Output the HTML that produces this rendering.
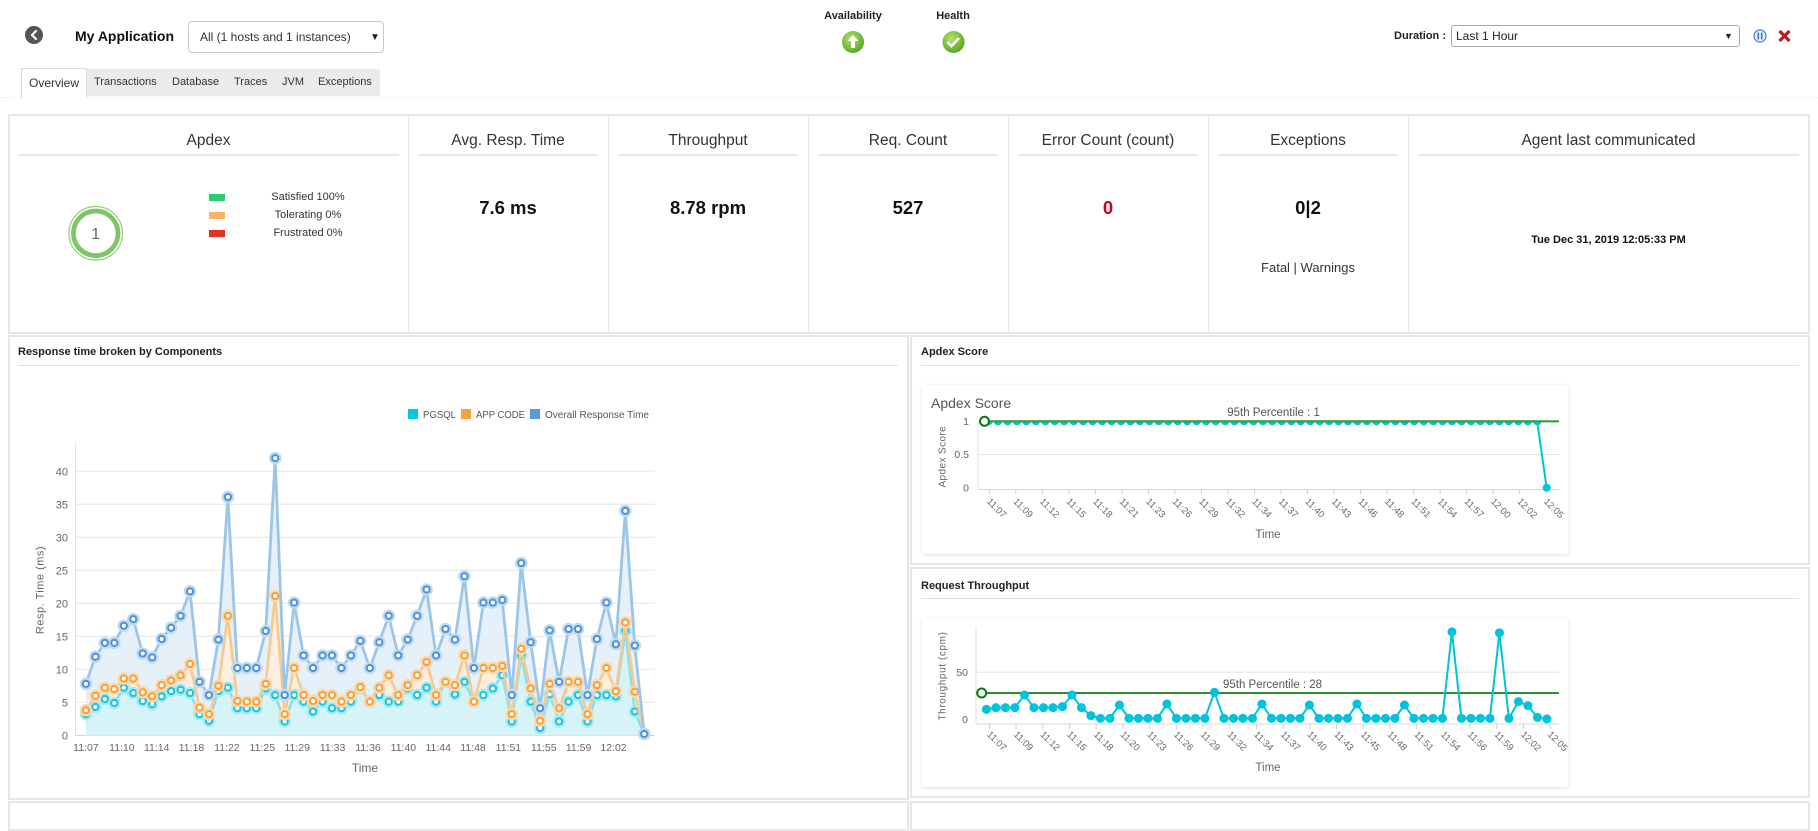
<!DOCTYPE html>
<html><head><meta charset="utf-8">
<style>
*{box-sizing:border-box;margin:0;padding:0}
body{width:1818px;height:811px;overflow:hidden;position:relative;background:#fff;font-family:"Liberation Sans",Arial,sans-serif;color:#333}
.a{position:absolute;white-space:nowrap}
.panel{position:absolute;border:2px solid #e6e6e6;background:#fff}
.kt{position:absolute;top:130px;font-size:15.5px;color:#333;text-align:center;line-height:22px}
.kv{position:absolute;top:197px;font-size:18.5px;font-weight:bold;text-align:center;line-height:22px;color:#111}
.ul{position:absolute;height:2px;background:#e8e8e8;top:154px}
.vd{position:absolute;top:116px;width:1px;height:217px;background:#e6e6e6}
.tab{position:absolute;top:75px;font-size:11px;line-height:14px;color:#333}
.ct{position:absolute;font-size:11px;font-weight:bold;line-height:14px;color:#222}
.card{position:absolute;background:#fff;box-shadow:0 1px 4px rgba(0,0,0,0.13)}
</style></head><body>

<!-- header -->
<div class="a" style="left:75px;top:28px;font-size:14px;font-weight:bold;line-height:16px;color:#111">My Application</div>
<div class="a" style="left:188px;top:21px;width:196px;height:32px;border:1px solid #c8c8c8;border-radius:4px;background:#fff">
  <span class="a" style="left:11px;top:8px;font-size:12px;line-height:14px;color:#333">All (1 hosts and 1 instances)</span>
  <span class="a" style="left:181px;top:10px;font-size:10px;line-height:12px;color:#222">▼</span>
</div>
<div class="a" style="left:0;top:97px;width:1818px;height:0;border-top:1px dotted #eeeeee"></div>
<div class="a" style="left:21px;top:69px;width:359px;height:27px;background:#ebebeb"></div>
<div class="a" style="left:21px;top:68px;width:66px;height:31px;background:#fff;border:1px solid #dcdcdc;border-bottom:none"></div>
<div class="tab" style="left:29px;top:76px;font-size:12px">Overview</div>
<div class="tab" style="left:94px">Transactions</div>
<div class="tab" style="left:172px">Database</div>
<div class="tab" style="left:234px">Traces</div>
<div class="tab" style="left:282px">JVM</div>
<div class="tab" style="left:318px">Exceptions</div>

<div class="a" style="left:803px;top:9px;width:100px;text-align:center;font-size:11px;font-weight:bold;line-height:14px;color:#222">Availability</div>
<div class="a" style="left:903px;top:9px;width:100px;text-align:center;font-size:11px;font-weight:bold;line-height:14px;color:#222">Health</div>

<div class="a" style="left:1380px;top:29px;width:66px;text-align:right;font-size:11px;font-weight:bold;line-height:14px;color:#222">Duration :</div>
<div class="a" style="left:1451px;top:25px;width:289px;height:22px;border:1px solid #a9a9a9;border-radius:3px;background:#fff">
  <span class="a" style="left:4px;top:3px;font-size:12px;line-height:14px;color:#222">Last 1 Hour</span>
  <span class="a" style="left:272px;top:4px;font-size:9px;line-height:12px;color:#222">▼</span>
</div>

<!-- KPI panel -->
<div class="panel" style="left:8px;top:114px;width:1802px;height:220px"></div>
<div class="vd" style="left:408px"></div>
<div class="vd" style="left:608px"></div>
<div class="vd" style="left:808px"></div>
<div class="vd" style="left:1008px"></div>
<div class="vd" style="left:1208px"></div>
<div class="vd" style="left:1408px"></div>

<div class="kt" style="left:9px;width:399px">Apdex</div>
<div class="kt" style="left:408px;width:200px">Avg. Resp. Time</div>
<div class="kt" style="left:608px;width:200px">Throughput</div>
<div class="kt" style="left:808px;width:200px">Req. Count</div>
<div class="kt" style="left:1008px;width:200px">Error Count (count)</div>
<div class="kt" style="left:1208px;width:200px">Exceptions</div>
<div class="kt" style="left:1408px;width:401px">Agent last communicated</div>

<div class="ul" style="left:18px;width:381px"></div>
<div class="ul" style="left:418px;width:180px"></div>
<div class="ul" style="left:618px;width:180px"></div>
<div class="ul" style="left:818px;width:180px"></div>
<div class="ul" style="left:1018px;width:180px"></div>
<div class="ul" style="left:1218px;width:180px"></div>
<div class="ul" style="left:1418px;width:381px"></div>

<div class="kv" style="left:408px;width:200px">7.6 ms</div>
<div class="kv" style="left:608px;width:200px">8.78 rpm</div>
<div class="kv" style="left:808px;width:200px">527</div>
<div class="kv" style="left:1008px;width:200px;color:#d0021b">0</div>
<div class="kv" style="left:1208px;width:200px">0|2</div>
<div class="a" style="left:1208px;width:200px;top:260px;text-align:center;font-size:13px;line-height:16px;color:#333">Fatal | Warnings</div>
<div class="a" style="left:1408px;width:401px;top:233px;text-align:center;font-size:11px;font-weight:bold;line-height:14px;color:#111">Tue Dec 31, 2019 12:05:33 PM</div>

<!-- chart panels -->
<div class="panel" style="left:8px;top:335px;width:901px;height:465px"></div>
<div class="panel" style="left:910px;top:335px;width:900px;height:230px"></div>
<div class="panel" style="left:910px;top:567px;width:900px;height:231px"></div>
<div class="panel" style="left:8px;top:801px;width:901px;height:30px"></div>
<div class="panel" style="left:910px;top:801px;width:900px;height:30px"></div>

<div class="ct" style="left:18px;top:345px">Response time broken by Components</div>
<div class="a" style="left:18px;top:365px;width:880px;height:1px;background:#e0e0e0"></div>
<div class="ct" style="left:921px;top:345px">Apdex Score</div>
<div class="a" style="left:921px;top:365px;width:878px;height:1px;background:#e0e0e0"></div>
<div class="ct" style="left:921px;top:579px">Request Throughput</div>
<div class="a" style="left:921px;top:598px;width:878px;height:1px;background:#e0e0e0"></div>

<div class="card" style="left:922px;top:385px;width:646px;height:169px"></div>
<div class="card" style="left:922px;top:618px;width:646px;height:169px"></div>

<svg class="a" style="left:0;top:0" width="1818" height="811" viewBox="0 0 1818 811" xmlns="http://www.w3.org/2000/svg" font-family="Liberation Sans, Arial, sans-serif">
<defs>
  <radialGradient id="gg" cx="40%" cy="35%" r="65%"><stop offset="0" stop-color="#b2e46c"/><stop offset="1" stop-color="#5aa823"/></radialGradient>
  <clipPath id="apclip" clipPathUnits="userSpaceOnUse"><rect x="960" y="421.3" width="620" height="90"/></clipPath>
  <path id="cm" fill="none" vector-effect="non-scaling-stroke" d="M0,3.2h.01M1,4.3h.01M2,5.5h.01M3,4.9h.01M4,7.2h.01M5,6.4h.01M6,5.2h.01M7,4.7h.01M8,5.9h.01M9,6.7h.01M10,6.9h.01M11,6.4h.01M12,3.2h.01M13,2.2h.01M14,6.7h.01M15,7.2h.01M16,4.1h.01M17,4.1h.01M18,4.1h.01M19,7.1h.01M20,6.1h.01M21,2.1h.01M22,6.1h.01M23,5.1h.01M24,3.6h.01M25,5.1h.01M26,4.1h.01M27,4.1h.01M28,5.1h.01M29,7.1h.01M30,5.1h.01M31,6.1h.01M32,5.1h.01M33,5.1h.01M34,7.1h.01M35,6.1h.01M36,7.2h.01M37,5.1h.01M38,8.1h.01M39,6.2h.01M40,8.1h.01M41,5.1h.01M42,6.1h.01M43,7.1h.01M44,9.1h.01M45,2.1h.01M46,12.1h.01M47,5.1h.01M48,1.1h.01M49,6.2h.01M50,2.1h.01M51,5.1h.01M52,6.1h.01M53,2.1h.01M54,6.1h.01M55,6.1h.01M56,5.9h.01M57,15.8h.01M58,3.6h.01M59,0.2h.01"/>
  <path id="om" fill="none" vector-effect="non-scaling-stroke" d="M0,3.8h.01M1,6h.01M2,7.2h.01M3,7h.01M4,8.6h.01M5,8.6h.01M6,6.5h.01M7,5.9h.01M8,7.6h.01M9,8.3h.01M10,9.1h.01M11,10.8h.01M12,4.2h.01M13,3.2h.01M14,7.5h.01M15,18.1h.01M16,5.2h.01M17,5.1h.01M18,5.1h.01M19,7.8h.01M20,21.1h.01M21,3.2h.01M22,10.2h.01M23,6.1h.01M24,5.2h.01M25,6.1h.01M26,6.1h.01M27,5.1h.01M28,6.1h.01M29,7.3h.01M30,5.1h.01M31,7.2h.01M32,9.1h.01M33,6.1h.01M34,7.6h.01M35,9.1h.01M36,11.1h.01M37,6.1h.01M38,8.1h.01M39,7.6h.01M40,12.1h.01M41,5.1h.01M42,10.2h.01M43,10.2h.01M44,10.5h.01M45,3.2h.01M46,13.1h.01M47,7.1h.01M48,2.2h.01M49,7.8h.01M50,4.1h.01M51,8.1h.01M52,8.1h.01M53,3.2h.01M54,7.6h.01M55,10.2h.01M56,6.7h.01M57,17.1h.01M58,6.6h.01M59,0.2h.01"/>
  <path id="bm" fill="none" vector-effect="non-scaling-stroke" d="M0,7.8h.01M1,11.9h.01M2,14h.01M3,14h.01M4,16.6h.01M5,17.6h.01M6,12.4h.01M7,11.8h.01M8,14.6h.01M9,16.3h.01M10,18.1h.01M11,21.8h.01M12,8.1h.01M13,6.1h.01M14,14.5h.01M15,36.1h.01M16,10.2h.01M17,10.2h.01M18,10.2h.01M19,15.8h.01M20,42h.01M21,6.1h.01M22,20.1h.01M23,12.1h.01M24,10.2h.01M25,12.1h.01M26,12.1h.01M27,10.2h.01M28,12.1h.01M29,14.3h.01M30,10.2h.01M31,14.1h.01M32,18.1h.01M33,12.1h.01M34,14.5h.01M35,18.1h.01M36,22.1h.01M37,12.1h.01M38,16.1h.01M39,14.5h.01M40,24.1h.01M41,10.2h.01M42,20.1h.01M43,20.1h.01M44,20.5h.01M45,6.1h.01M46,26.1h.01M47,14.1h.01M48,4.1h.01M49,15.9h.01M50,8.1h.01M51,16.1h.01M52,16.1h.01M53,6.1h.01M54,14.6h.01M55,20.1h.01M56,13.8h.01M57,34h.01M58,13.6h.01M59,0.2h.01"/>
</defs>

<!-- header icons -->
<circle cx="34" cy="35" r="9" fill="#555"/>
<path d="M36 31 L32 35 L36 39" stroke="#fff" stroke-width="2.2" fill="none" stroke-linecap="round" stroke-linejoin="round"/>
<circle cx="853" cy="42" r="11" fill="url(#gg)"/>
<path d="M853 35 L847.5 41 H851 V48 H855 V41 H858.5 Z" fill="#fff"/>
<circle cx="953.5" cy="42" r="11" fill="url(#gg)"/>
<path d="M947.5 42 L951.5 46 L959 38" stroke="#fff" stroke-width="2.6" fill="none"/>
<circle cx="1760" cy="36" r="6" fill="#eaf2fc" stroke="#3b7dd8" stroke-width="1.2"/>
<rect x="1757.4" y="32.5" width="1.7" height="7" fill="#3b7dd8"/>
<rect x="1760.9" y="32.5" width="1.7" height="7" fill="#3b7dd8"/>
<path d="M1779.5 31 L1789.5 41 M1789.5 31 L1779.5 41" stroke="#b81c1c" stroke-width="3.2"/>

<!-- apdex ring + legend -->
<circle cx="95.7" cy="233.3" r="22.3" fill="none" stroke="#7cc66a" stroke-width="4.7"/>
<circle cx="95.7" cy="233.3" r="26.8" fill="none" stroke="#8fd080" stroke-width="1.2"/>
<text x="95.7" y="239" font-size="16" fill="#666" text-anchor="middle">1</text>
<rect x="209" y="194" width="16" height="7" fill="#2ecc71"/>
<rect x="209" y="212" width="16" height="7" fill="#f8b26a"/>
<rect x="209" y="230" width="16" height="7" fill="#e2311d"/>
<g font-size="11" fill="#333" text-anchor="middle">
<text x="308" y="200">Satisfied 100%</text>
<text x="308" y="218">Tolerating 0%</text>
<text x="308" y="236">Frustrated 0%</text>
</g>

<!-- ========== Left chart ========== -->
<g stroke="#e6e6e6" stroke-width="1">
<line x1="75.5" y1="471.3" x2="654.7" y2="471.3"/>
<line x1="75.5" y1="504.3" x2="654.7" y2="504.3"/>
<line x1="75.5" y1="537.3" x2="654.7" y2="537.3"/>
<line x1="75.5" y1="570.3" x2="654.7" y2="570.3"/>
<line x1="75.5" y1="603.3" x2="654.7" y2="603.3"/>
<line x1="75.5" y1="636.3" x2="654.7" y2="636.3"/>
<line x1="75.5" y1="669.3" x2="654.7" y2="669.3"/>
<line x1="75.5" y1="702.3" x2="654.7" y2="702.3"/>
</g>
<line x1="75.5" y1="443" x2="75.5" y2="735.3" stroke="#e0e0e0"/>
<line x1="75.5" y1="735.5" x2="654.7" y2="735.5" stroke="#d8d8d8"/>
<g font-size="11" fill="#666" text-anchor="end">
<text x="68" y="739.3">0</text><text x="68" y="706.3">5</text><text x="68" y="673.3">10</text>
<text x="68" y="640.3">15</text><text x="68" y="607.3">20</text><text x="68" y="574.3">25</text>
<text x="68" y="541.3">30</text><text x="68" y="508.3">35</text><text x="68" y="475.3">40</text>
</g>
<g font-size="10.5" fill="#666" text-anchor="middle">
<text x="85.9" y="751">11:07</text><text x="121.9" y="751">11:10</text><text x="156.7" y="751">11:14</text>
<text x="191.5" y="751">11:18</text><text x="226.9" y="751">11:22</text><text x="262.3" y="751">11:25</text>
<text x="297.2" y="751">11:29</text><text x="332.6" y="751">11:33</text><text x="368" y="751">11:36</text>
<text x="403.4" y="751">11:40</text><text x="438.2" y="751">11:44</text><text x="473" y="751">11:48</text>
<text x="508.4" y="751">11:51</text><text x="543.8" y="751">11:55</text><text x="578.6" y="751">11:59</text>
<text x="613.5" y="751">12:02</text>
</g>
<text x="365" y="772" font-size="12" fill="#666" text-anchor="middle">Time</text>
<text transform="translate(43.5,590) rotate(-90)" font-size="11" fill="#666" text-anchor="middle" letter-spacing="0.5">Resp. Time (ms)</text>

<!-- legend -->
<rect x="408" y="409" width="10" height="10" fill="#00c8e0"/>
<text x="423" y="418" font-size="10" fill="#555" textLength="33" lengthAdjust="spacingAndGlyphs">PGSQL</text>
<rect x="461" y="409" width="10" height="10" fill="#f8a23a"/>
<text x="476" y="418" font-size="10" fill="#555" textLength="49" lengthAdjust="spacingAndGlyphs">APP CODE</text>
<rect x="530" y="409" width="10" height="10" fill="#5b9bd5"/>
<text x="545" y="418" font-size="10" fill="#555" textLength="104" lengthAdjust="spacingAndGlyphs">Overall Response Time</text>

<g transform="matrix(9.463 0 0 -6.6 85.9 735.3)">
<polygon fill="#e6f0f9" points="0,0 0,7.8 1,11.9 2,14 3,14 4,16.6 5,17.6 6,12.4 7,11.8 8,14.6 9,16.3 10,18.1 11,21.8 12,8.1 13,6.1 14,14.5 15,36.1 16,10.2 17,10.2 18,10.2 19,15.8 20,42 21,6.1 22,20.1 23,12.1 24,10.2 25,12.1 26,12.1 27,10.2 28,12.1 29,14.3 30,10.2 31,14.1 32,18.1 33,12.1 34,14.5 35,18.1 36,22.1 37,12.1 38,16.1 39,14.5 40,24.1 41,10.2 42,20.1 43,20.1 44,20.5 45,6.1 46,26.1 47,14.1 48,4.1 49,15.9 50,8.1 51,16.1 52,16.1 53,6.1 54,14.6 55,20.1 56,13.8 57,34 58,13.6 59,0.2 59,0"/>
<polygon fill="#fcefe0" points="0,0 0,3.8 1,6 2,7.2 3,7 4,8.6 5,8.6 6,6.5 7,5.9 8,7.6 9,8.3 10,9.1 11,10.8 12,4.2 13,3.2 14,7.5 15,18.1 16,5.2 17,5.1 18,5.1 19,7.8 20,21.1 21,3.2 22,10.2 23,6.1 24,5.2 25,6.1 26,6.1 27,5.1 28,6.1 29,7.3 30,5.1 31,7.2 32,9.1 33,6.1 34,7.6 35,9.1 36,11.1 37,6.1 38,8.1 39,7.6 40,12.1 41,5.1 42,10.2 43,10.2 44,10.5 45,3.2 46,13.1 47,7.1 48,2.2 49,7.8 50,4.1 51,8.1 52,8.1 53,3.2 54,7.6 55,10.2 56,6.7 57,17.1 58,6.6 59,0.2 59,0"/>
<polygon fill="#d6f3f8" points="0,0 0,3.2 1,4.3 2,5.5 3,4.9 4,7.2 5,6.4 6,5.2 7,4.7 8,5.9 9,6.7 10,6.9 11,6.4 12,3.2 13,2.2 14,6.7 15,7.2 16,4.1 17,4.1 18,4.1 19,7.1 20,6.1 21,2.1 22,6.1 23,5.1 24,3.6 25,5.1 26,4.1 27,4.1 28,5.1 29,7.1 30,5.1 31,6.1 32,5.1 33,5.1 34,7.1 35,6.1 36,7.2 37,5.1 38,8.1 39,6.2 40,8.1 41,5.1 42,6.1 43,7.1 44,9.1 45,2.1 46,12.1 47,5.1 48,1.1 49,6.2 50,2.1 51,5.1 52,6.1 53,2.1 54,6.1 55,6.1 56,5.9 57,15.8 58,3.6 59,0.2 59,0"/>

<!-- cyan series -->
<polyline fill="none" stroke="#86dfec" stroke-width="2.6" stroke-linejoin="round" vector-effect="non-scaling-stroke" points="0,3.2 1,4.3 2,5.5 3,4.9 4,7.2 5,6.4 6,5.2 7,4.7 8,5.9 9,6.7 10,6.9 11,6.4 12,3.2 13,2.2 14,6.7 15,7.2 16,4.1 17,4.1 18,4.1 19,7.1 20,6.1 21,2.1 22,6.1 23,5.1 24,3.6 25,5.1 26,4.1 27,4.1 28,5.1 29,7.1 30,5.1 31,6.1 32,5.1 33,5.1 34,7.1 35,6.1 36,7.2 37,5.1 38,8.1 39,6.2 40,8.1 41,5.1 42,6.1 43,7.1 44,9.1 45,2.1 46,12.1 47,5.1 48,1.1 49,6.2 50,2.1 51,5.1 52,6.1 53,2.1 54,6.1 55,6.1 56,5.9 57,15.8 58,3.6 59,0.2"/>
<use href="#cm" stroke="#a6e9f3" stroke-width="12.5" stroke-linecap="round"/>
<use href="#cm" stroke="#1ec4dc" stroke-width="8.2" stroke-linecap="round"/>
<use href="#cm" stroke="#ffffff" stroke-width="4" stroke-linecap="round"/>

<!-- orange series -->
<polyline fill="none" stroke="#f8c98c" stroke-width="2.6" stroke-linejoin="round" vector-effect="non-scaling-stroke" points="0,3.8 1,6 2,7.2 3,7 4,8.6 5,8.6 6,6.5 7,5.9 8,7.6 9,8.3 10,9.1 11,10.8 12,4.2 13,3.2 14,7.5 15,18.1 16,5.2 17,5.1 18,5.1 19,7.8 20,21.1 21,3.2 22,10.2 23,6.1 24,5.2 25,6.1 26,6.1 27,5.1 28,6.1 29,7.3 30,5.1 31,7.2 32,9.1 33,6.1 34,7.6 35,9.1 36,11.1 37,6.1 38,8.1 39,7.6 40,12.1 41,5.1 42,10.2 43,10.2 44,10.5 45,3.2 46,13.1 47,7.1 48,2.2 49,7.8 50,4.1 51,8.1 52,8.1 53,3.2 54,7.6 55,10.2 56,6.7 57,17.1 58,6.6 59,0.2"/>
<use href="#om" stroke="#fcd8ae" stroke-width="12.5" stroke-linecap="round"/>
<use href="#om" stroke="#f5a23c" stroke-width="8.2" stroke-linecap="round"/>
<use href="#om" stroke="#ffffff" stroke-width="4" stroke-linecap="round"/>

<!-- blue series -->
<polyline fill="none" stroke="#9cc6e9" stroke-width="2.8" stroke-linejoin="round" vector-effect="non-scaling-stroke" points="0,7.8 1,11.9 2,14 3,14 4,16.6 5,17.6 6,12.4 7,11.8 8,14.6 9,16.3 10,18.1 11,21.8 12,8.1 13,6.1 14,14.5 15,36.1 16,10.2 17,10.2 18,10.2 19,15.8 20,42 21,6.1 22,20.1 23,12.1 24,10.2 25,12.1 26,12.1 27,10.2 28,12.1 29,14.3 30,10.2 31,14.1 32,18.1 33,12.1 34,14.5 35,18.1 36,22.1 37,12.1 38,16.1 39,14.5 40,24.1 41,10.2 42,20.1 43,20.1 44,20.5 45,6.1 46,26.1 47,14.1 48,4.1 49,15.9 50,8.1 51,16.1 52,16.1 53,6.1 54,14.6 55,20.1 56,13.8 57,34 58,13.6 59,0.2"/>
<use href="#bm" stroke="#c0daf1" stroke-width="12.5" stroke-linecap="round"/>
<use href="#bm" stroke="#4f94d8" stroke-width="8.2" stroke-linecap="round"/>
<use href="#bm" stroke="#ffffff" stroke-width="4" stroke-linecap="round"/>
</g>

<!-- ========== Apdex Score chart ========== -->
<text x="931" y="408" font-size="14" fill="#555">Apdex Score</text>
<line x1="978" y1="454.5" x2="1559" y2="454.5" stroke="#e6e6e6"/>
<line x1="978" y1="421.3" x2="978" y2="489.5" stroke="#e0e0e0"/>
<line x1="978" y1="489.5" x2="1559" y2="489.5" stroke="#d8d8d8"/>
<g stroke="#cfcfcf">
<line x1="989.3" y1="489.5" x2="989.3" y2="494"/><line x1="1015.8" y1="489.5" x2="1015.8" y2="494"/><line x1="1042.3" y1="489.5" x2="1042.3" y2="494"/><line x1="1068.9" y1="489.5" x2="1068.9" y2="494"/><line x1="1095.4" y1="489.5" x2="1095.4" y2="494"/><line x1="1121.9" y1="489.5" x2="1121.9" y2="494"/><line x1="1148.4" y1="489.5" x2="1148.4" y2="494"/><line x1="1174.9" y1="489.5" x2="1174.9" y2="494"/><line x1="1201.5" y1="489.5" x2="1201.5" y2="494"/><line x1="1228" y1="489.5" x2="1228" y2="494"/><line x1="1254.5" y1="489.5" x2="1254.5" y2="494"/><line x1="1281" y1="489.5" x2="1281" y2="494"/><line x1="1307.5" y1="489.5" x2="1307.5" y2="494"/><line x1="1334.1" y1="489.5" x2="1334.1" y2="494"/><line x1="1360.6" y1="489.5" x2="1360.6" y2="494"/><line x1="1387.1" y1="489.5" x2="1387.1" y2="494"/><line x1="1413.6" y1="489.5" x2="1413.6" y2="494"/><line x1="1440.1" y1="489.5" x2="1440.1" y2="494"/><line x1="1466.7" y1="489.5" x2="1466.7" y2="494"/><line x1="1493.2" y1="489.5" x2="1493.2" y2="494"/><line x1="1519.7" y1="489.5" x2="1519.7" y2="494"/><line x1="1546.2" y1="489.5" x2="1546.2" y2="494"/>
</g>
<g font-size="10.5" fill="#666" text-anchor="end">
<text x="969" y="425">1</text><text x="969" y="458.2">0.5</text><text x="969" y="491.4">0</text>
</g>
<text transform="translate(945.5,456.7) rotate(-90)" font-size="10" fill="#666" text-anchor="middle" letter-spacing="0.4">Apdex Score</text>
<g font-size="9.5" fill="#666">
<text transform="translate(986.3,502) rotate(45)">11:07</text>
<text transform="translate(1012.8,502) rotate(45)">11:09</text>
<text transform="translate(1039.3,502) rotate(45)">11:12</text>
<text transform="translate(1065.9,502) rotate(45)">11:15</text>
<text transform="translate(1092.4,502) rotate(45)">11:18</text>
<text transform="translate(1118.9,502) rotate(45)">11:21</text>
<text transform="translate(1145.4,502) rotate(45)">11:23</text>
<text transform="translate(1171.9,502) rotate(45)">11:26</text>
<text transform="translate(1198.5,502) rotate(45)">11:29</text>
<text transform="translate(1225,502) rotate(45)">11:32</text>
<text transform="translate(1251.5,502) rotate(45)">11:34</text>
<text transform="translate(1278,502) rotate(45)">11:37</text>
<text transform="translate(1304.5,502) rotate(45)">11:40</text>
<text transform="translate(1331.1,502) rotate(45)">11:43</text>
<text transform="translate(1357.6,502) rotate(45)">11:46</text>
<text transform="translate(1384.1,502) rotate(45)">11:48</text>
<text transform="translate(1410.6,502) rotate(45)">11:51</text>
<text transform="translate(1437.1,502) rotate(45)">11:54</text>
<text transform="translate(1463.7,502) rotate(45)">11:57</text>
<text transform="translate(1490.2,502) rotate(45)">12:00</text>
<text transform="translate(1516.7,502) rotate(45)">12:02</text>
<text transform="translate(1543.2,502) rotate(45)">12:05</text>
</g>
<text x="1268" y="538" font-size="11.5" fill="#666" text-anchor="middle">Time</text>
<g clip-path="url(#apclip)">
<g transform="matrix(9.46 0 0 -66.4 988.5 487.7)">
<polyline fill="none" stroke="#00c4dc" stroke-width="2" vector-effect="non-scaling-stroke" points="0,1 58,1 59,0"/>
<path fill="none" stroke="#00c4dc" stroke-width="8" stroke-linecap="round" vector-effect="non-scaling-stroke" d="M0,1h.01M1,1h.01M2,1h.01M3,1h.01M4,1h.01M5,1h.01M6,1h.01M7,1h.01M8,1h.01M9,1h.01M10,1h.01M11,1h.01M12,1h.01M13,1h.01M14,1h.01M15,1h.01M16,1h.01M17,1h.01M18,1h.01M19,1h.01M20,1h.01M21,1h.01M22,1h.01M23,1h.01M24,1h.01M25,1h.01M26,1h.01M27,1h.01M28,1h.01M29,1h.01M30,1h.01M31,1h.01M32,1h.01M33,1h.01M34,1h.01M35,1h.01M36,1h.01M37,1h.01M38,1h.01M39,1h.01M40,1h.01M41,1h.01M42,1h.01M43,1h.01M44,1h.01M45,1h.01M46,1h.01M47,1h.01M48,1h.01M49,1h.01M50,1h.01M51,1h.01M52,1h.01M53,1h.01M54,1h.01M55,1h.01M56,1h.01M57,1h.01M58,1h.01M59,0h.01"/>
</g>
</g>
<line x1="983.4" y1="421.3" x2="1559" y2="421.3" stroke="#3a9a3a" stroke-width="2.2"/>
<circle cx="984.5" cy="421.3" r="4.5" fill="#fff" stroke="#0e7a0e" stroke-width="2"/>
<text x="1273.6" y="416" font-size="11.5" fill="#555" text-anchor="middle">95th Percentile : 1</text>

<!-- ========== Throughput chart ========== -->
<line x1="976" y1="672.3" x2="1559" y2="672.3" stroke="#e6e6e6"/>
<line x1="976" y1="626.7" x2="976" y2="724" stroke="#e0e0e0"/>
<line x1="976" y1="724" x2="1559" y2="724" stroke="#d8d8d8"/>
<g stroke="#cfcfcf">
<line x1="989.4" y1="724" x2="989.4" y2="729"/><line x1="1016.1" y1="724" x2="1016.1" y2="729"/><line x1="1042.8" y1="724" x2="1042.8" y2="729"/><line x1="1069.5" y1="724" x2="1069.5" y2="729"/><line x1="1096.2" y1="724" x2="1096.2" y2="729"/><line x1="1122.9" y1="724" x2="1122.9" y2="729"/><line x1="1149.6" y1="724" x2="1149.6" y2="729"/><line x1="1176.3" y1="724" x2="1176.3" y2="729"/><line x1="1203" y1="724" x2="1203" y2="729"/><line x1="1229.7" y1="724" x2="1229.7" y2="729"/><line x1="1256.4" y1="724" x2="1256.4" y2="729"/><line x1="1283.1" y1="724" x2="1283.1" y2="729"/><line x1="1309.8" y1="724" x2="1309.8" y2="729"/><line x1="1336.5" y1="724" x2="1336.5" y2="729"/><line x1="1363.2" y1="724" x2="1363.2" y2="729"/><line x1="1389.9" y1="724" x2="1389.9" y2="729"/><line x1="1416.6" y1="724" x2="1416.6" y2="729"/><line x1="1443.3" y1="724" x2="1443.3" y2="729"/><line x1="1470" y1="724" x2="1470" y2="729"/><line x1="1496.7" y1="724" x2="1496.7" y2="729"/><line x1="1523.4" y1="724" x2="1523.4" y2="729"/><line x1="1550.1" y1="724" x2="1550.1" y2="729"/>
</g>
<g font-size="10.5" fill="#666" text-anchor="end">
<text x="968" y="676">50</text><text x="968" y="723">0</text>
</g>
<text transform="translate(945.5,676) rotate(-90)" font-size="10" fill="#666" text-anchor="middle" letter-spacing="0.6">Throughput (cpm)</text>
<g font-size="9.5" fill="#666">
<text transform="translate(986.4,735) rotate(45)">11:07</text>
<text transform="translate(1013.1,735) rotate(45)">11:09</text>
<text transform="translate(1039.8,735) rotate(45)">11:12</text>
<text transform="translate(1066.5,735) rotate(45)">11:15</text>
<text transform="translate(1093.2,735) rotate(45)">11:18</text>
<text transform="translate(1119.9,735) rotate(45)">11:20</text>
<text transform="translate(1146.6,735) rotate(45)">11:23</text>
<text transform="translate(1173.3,735) rotate(45)">11:26</text>
<text transform="translate(1200,735) rotate(45)">11:29</text>
<text transform="translate(1226.7,735) rotate(45)">11:32</text>
<text transform="translate(1253.4,735) rotate(45)">11:34</text>
<text transform="translate(1280.1,735) rotate(45)">11:37</text>
<text transform="translate(1306.8,735) rotate(45)">11:40</text>
<text transform="translate(1333.5,735) rotate(45)">11:43</text>
<text transform="translate(1360.2,735) rotate(45)">11:45</text>
<text transform="translate(1386.9,735) rotate(45)">11:48</text>
<text transform="translate(1413.6,735) rotate(45)">11:51</text>
<text transform="translate(1440.3,735) rotate(45)">11:54</text>
<text transform="translate(1467,735) rotate(45)">11:56</text>
<text transform="translate(1493.7,735) rotate(45)">11:59</text>
<text transform="translate(1520.4,735) rotate(45)">12:02</text>
<text transform="translate(1547.1,735) rotate(45)">12:05</text>
</g>
<text x="1268" y="771" font-size="11.5" fill="#666" text-anchor="middle">Time</text>
<line x1="976" y1="693" x2="1559" y2="693" stroke="#2f8f2f" stroke-width="2"/>
<g transform="matrix(9.5 0 0 -0.94 986.4 719.3)">
<polyline fill="none" stroke="#00c4dc" stroke-width="2" stroke-linejoin="round" vector-effect="non-scaling-stroke" points="0,10.6 1,12.4 2,12.4 3,12.4 4,25.9 5,12.4 6,12.4 7,12.4 8,13.5 9,25.9 10,12.4 11,3.9 12,1 13,1 14,15.2 15,1 16,1 17,1 18,1 19,16.3 20,1 21,1 22,1 23,1 24,28.7 25,1 26,1 27,1 28,1 29,16.3 30,1 31,1 32,1 33,1 34,15.2 35,1 36,1 37,1 38,1 39,16.3 40,1 41,1 42,1 43,1 44,15.2 45,1 46,1 47,1 48,1 49,93 50,1 51,1 52,1 53,1 54,92 55,1 56,18.8 57,14.5 58,2 59,0.4"/>
<path fill="none" stroke="#00c4dc" stroke-width="9" stroke-linecap="round" vector-effect="non-scaling-stroke" d="M0,10.6h.01M1,12.4h.01M2,12.4h.01M3,12.4h.01M4,25.9h.01M5,12.4h.01M6,12.4h.01M7,12.4h.01M8,13.5h.01M9,25.9h.01M10,12.4h.01M11,3.9h.01M12,1h.01M13,1h.01M14,15.2h.01M15,1h.01M16,1h.01M17,1h.01M18,1h.01M19,16.3h.01M20,1h.01M21,1h.01M22,1h.01M23,1h.01M24,28.7h.01M25,1h.01M26,1h.01M27,1h.01M28,1h.01M29,16.3h.01M30,1h.01M31,1h.01M32,1h.01M33,1h.01M34,15.2h.01M35,1h.01M36,1h.01M37,1h.01M38,1h.01M39,16.3h.01M40,1h.01M41,1h.01M42,1h.01M43,1h.01M44,15.2h.01M45,1h.01M46,1h.01M47,1h.01M48,1h.01M49,93h.01M50,1h.01M51,1h.01M52,1h.01M53,1h.01M54,92h.01M55,1h.01M56,18.8h.01M57,14.5h.01M58,2h.01M59,0.4h.01"/>
</g>
<circle cx="981.7" cy="693" r="4.5" fill="#fff" stroke="#0e7a0e" stroke-width="2"/>
<text x="1272.5" y="688" font-size="11.5" fill="#555" text-anchor="middle">95th Percentile : 28</text>
</svg>
</body></html>
